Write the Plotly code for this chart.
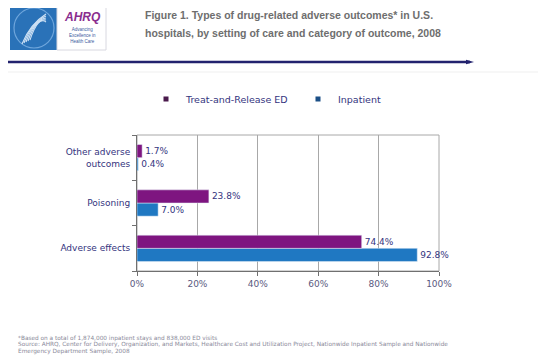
import plotly.graph_objects as go

# ---------------- data ----------------
categories = ["Adverse effects", "Poisoning", "Other adverse<br>outcomes"]
ed_values = [74.4, 23.8, 1.7]          # Treat-and-Release ED
inpatient_values = [92.8, 7.0, 0.4]    # Inpatient
series_names = ["Treat-and-Release ED", "Inpatient"]
x_ticks = [0, 20, 40, 60, 80, 100]

title_lines = [
    "Figure 1. Types of drug-related adverse outcomes* in U.S.",
    "hospitals, by setting of care and category of outcome, 2008",
]
footnotes = [
    "*Based on a total of 1,874,000 inpatient stays and 838,000 ED visits",
    "Source: AHRQ, Center for Delivery, Organization, and Markets, Healthcare Cost and Utilization Project, Nationwide Inpatient Sample and Nationwide",
    "Emergency Department Sample, 2008",
]

# ---------------- layout helpers (window pixel coordinates) ----------------
WIN_W, WIN_H = 546, 364
OFF = 8                      # page body margin
W, H = WIN_W - 2 * OFF, WIN_H - 2 * OFF
L, R, T, B = 137, 439, 135, 271


def px(x):
    return (x - L) / (R - L)


def py(y):
    return (B - y) / (B - T)


PURPLE = "#7e1580"
BLUE = "#1f78c2"
NAVY_TXT = "#34347e"
FONT = "DejaVu Sans"

fig = go.Figure()
fig.add_trace(go.Bar(
    y=categories, x=inpatient_values, name=series_names[1], orientation="h",
    marker=dict(color=BLUE), text=[f"{v:.1f}%" for v in inpatient_values],
    textposition="outside", cliponaxis=False, showlegend=False,
    textfont=dict(size=9, color=NAVY_TXT, family=FONT),
))
fig.add_trace(go.Bar(
    y=categories, x=ed_values, name=series_names[0], orientation="h",
    marker=dict(color=PURPLE), text=[f"{v:.1f}%" for v in ed_values],
    textposition="outside", cliponaxis=False, showlegend=False,
    textfont=dict(size=9, color=NAVY_TXT, family=FONT),
))
# legend entries (small square markers as in the original)
fig.add_trace(go.Scatter(x=[None], y=[None], mode="markers", name=series_names[0], legend="legend",
                         marker=dict(symbol="square", size=5, color="#4a1a4c")))
fig.add_trace(go.Scatter(x=[None], y=[None], mode="markers", name=series_names[1], legend="legend2",
                         marker=dict(symbol="square", size=5, color="#1b4f86")))

shapes = []
# header rule with arrow tip
shapes.append(dict(type="line", xref="paper", yref="paper", x0=px(OFF), x1=px(470), y0=py(62), y1=py(62),
                   line=dict(color="#22226e", width=2.5)))
shapes.append(dict(type="path", xref="paper", yref="paper",
                   path="M %f,%f L %f,%f L %f,%f Z" % (px(466), py(59.8), px(474), py(62), px(466), py(64.2)),
                   fillcolor="#22226e", line=dict(width=0)))
shapes.append(dict(type="line", xref="paper", yref="paper", x0=px(OFF), x1=px(WIN_W), y0=py(72), y1=py(72),
                   line=dict(color="#efefef", width=1)))
# logo: HHS blue square and AHRQ box
shapes.append(dict(type="rect", xref="paper", yref="paper", x0=px(10), x1=px(57), y0=py(5), y1=py(50),
                   fillcolor="#2a72b8", line=dict(width=0)))
shapes.append(dict(type="circle", xref="paper", yref="paper", x0=px(14), x1=px(54), y0=py(8), y1=py(48),
                   line=dict(color="#6fa6dc", width=1.2)))
for k in range(5):
    shapes.append(dict(type="path", xref="paper", yref="paper",
                       path="M %f,%f Q %f,%f %f,%f" % (px(22 + k * 2), py(44 - k), px(30 + k * 2), py(24 - k * 2),
                                                      px(46), py(14 + k * 2)),
                       line=dict(color="#cfe2f5", width=1.1)))
shapes.append(dict(type="rect", xref="paper", yref="paper", x0=px(57), x1=px(106), y0=py(5), y1=py(50),
                   fillcolor="#ffffff", line=dict(color="#d8d8e0", width=1)))
# plot border (top/right) in light gray
shapes.append(dict(type="rect", xref="paper", yref="paper", x0=0, x1=1, y0=0, y1=1,
                   line=dict(color="#a8a8a8", width=1), layer="below"))

annotations = []
for i, line in enumerate(title_lines):
    annotations.append(dict(text="<b>" + line + "</b>", xref="paper", yref="paper",
                            x=px(143), y=py(15 + i * 18), xanchor="left", yanchor="middle",
                            showarrow=False, font=dict(size=10.5, color="#6e6e6e", family="Liberation Sans")))
annotations.append(dict(text="<b><i>AHRQ</i></b>", xref="paper", yref="paper", x=px(82), y=py(17),
                        xanchor="center", yanchor="middle", showarrow=False,
                        font=dict(size=12, color="#8a2d8e", family="Liberation Sans")))
annotations.append(dict(text="Advancing<br>Excellence in<br>Health Care", xref="paper", yref="paper",
                        x=px(82), y=py(36), xanchor="center", yanchor="middle", showarrow=False,
                        font=dict(size=4.5, color="#3a5aa0", family="Liberation Sans")))
for i, line in enumerate(footnotes):
    annotations.append(dict(text=line, xref="paper", yref="paper", x=px(16), y=py(338 + i * 6.6),
                            xanchor="left", yanchor="middle", showarrow=False,
                            font=dict(size=5.8, color="#8a8a9a", family=FONT)))

legend_common = dict(orientation="v", xanchor="left", yanchor="middle", itemsizing="trace",
                     font=dict(size=9.5, color=NAVY_TXT, family=FONT), bgcolor="rgba(0,0,0,0)")

fig.update_layout(
    width=W, height=H,
    margin=dict(l=L - OFF, r=(OFF + W) - R, t=T - OFF, b=(OFF + H) - B, autoexpand=False),
    paper_bgcolor="#ffffff", plot_bgcolor="#ffffff",
    barmode="group", bargap=0.42, bargroupgap=0,
    font=dict(family=FONT, color=NAVY_TXT),
    xaxis=dict(range=[0, 100], tickvals=x_ticks, ticktext=[f"{v}%" for v in x_ticks],
               showgrid=True, gridcolor="#a8a8a8", gridwidth=1,
               showline=True, linecolor="#707070", linewidth=1,
               ticks="outside", ticklen=4, tickcolor="#707070",
               tickfont=dict(size=9, color="#5a5a80", family=FONT), zeroline=False, fixedrange=True),
    yaxis=dict(showline=True, linecolor="#707070", linewidth=1, tickson="boundaries",
               ticks="outside", ticklen=4, tickcolor="#707070",
               tickfont=dict(size=9, color=NAVY_TXT, family=FONT), showgrid=False,
               categoryorder="array", categoryarray=categories, fixedrange=True, ticklabelstandoff=4),
    legend=dict(x=px(146), y=py(99), **legend_common),
    legend2=dict(x=px(298), y=py(99), **legend_common),
    shapes=shapes, annotations=annotations, showlegend=True,
)

fig.write_html("out.html")
